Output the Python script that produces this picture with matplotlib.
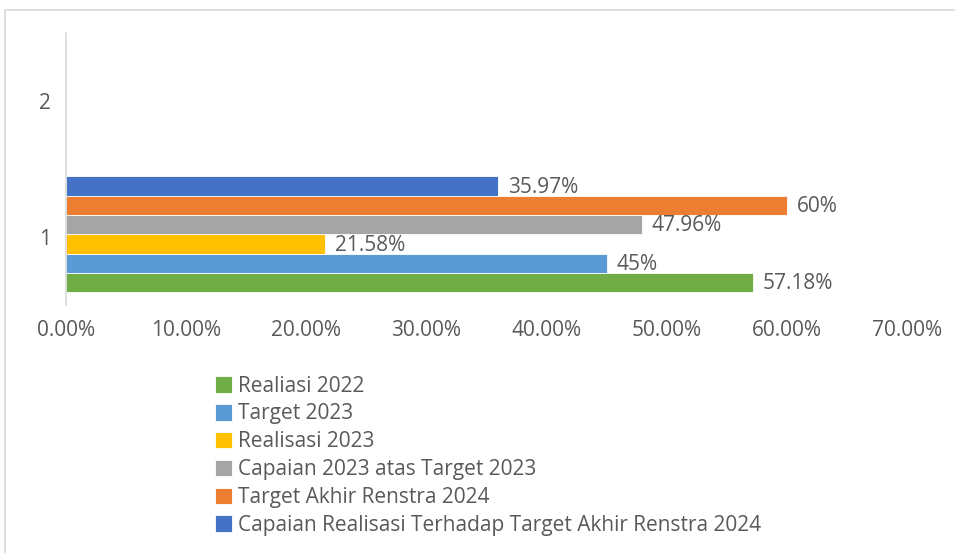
import matplotlib

matplotlib.use("Agg")
import matplotlib.pyplot as plt
from matplotlib.patches import Rectangle
from matplotlib.ticker import FuncFormatter

# series drawn bottom-to-top within category "1"; category "2" is empty
categories = ["1", "2"]
series = [
    "Realiasi 2022",
    "Target 2023",
    "Realisasi 2023",
    "Capaian 2023 atas Target 2023",
    "Target Akhir Renstra 2024",
    "Capaian Realisasi Terhadap Target Akhir Renstra 2024",
]
values = [57.18, 45, 21.58, 47.96, 60, 35.97]
colors = ["#70ad47", "#5b9bd5", "#ffc000", "#a5a5a5", "#ed7d31", "#4472c4"]
xticks = [0, 10, 20, 30, 40, 50, 60, 70]

TXT = "#595959"
FS = 15
plt.rcParams["font.family"] = ["Open Sans", "DejaVu Sans"]

fig = plt.figure(figsize=(9.55, 5.53), dpi=100)
ax = fig.add_axes([66 / 955, 248 / 553, 841 / 955, 272 / 553])

h = 0.142
n = len(series)
for i, (name, v, c) in enumerate(zip(series, values, colors)):
    y = 1.02 + (i - (n - 1) / 2) * h
    ax.barh(y, v, height=h, color=c, edgecolor="white", linewidth=0.6, label=name)
    ax.text(v + 0.8, y - 0.01, f"{v:g}%", va="center", ha="left", fontsize=FS, color=TXT)

ax.set_xlim(0, 70)
ax.set_ylim(0.5, 2.5)
ax.set_yticks(range(1, len(categories) + 1), categories)
ax.set_xticks(xticks)
ax.xaxis.set_major_formatter(FuncFormatter(lambda x, _: f"{x:.2f}%"))
ax.tick_params(axis="both", length=0, labelsize=FS, labelcolor=TXT)
ax.tick_params(axis="x", pad=11)
ax.tick_params(axis="y", pad=11)
for s in ["top", "right", "bottom"]:
    ax.spines[s].set_visible(False)
ax.spines["left"].set_color("#d9d9d9")
ax.spines["left"].set_linewidth(1.2)

# legend in the same order as the bars, listed top-down
handles, labels = ax.get_legend_handles_labels()
fig.legend(
    handles,
    labels,
    loc="upper left",
    bbox_to_anchor=(200 / 955, 1 - 361 / 553),
    frameon=False,
    fontsize=FS,
    labelcolor=TXT,
    handlelength=0.85,
    handleheight=0.85,
    handletextpad=0.28,
    labelspacing=0.33,
    borderpad=0.2,
)

# chart frame, running off the right and bottom edges
fig.patches.append(
    Rectangle((5 / 955, -0.1), 1, 1.1 - 10 / 553, transform=fig.transFigure,
              fill=False, edgecolor="#d9d9d9", linewidth=1.2)
)

fig.savefig("out.png", dpi=100)
